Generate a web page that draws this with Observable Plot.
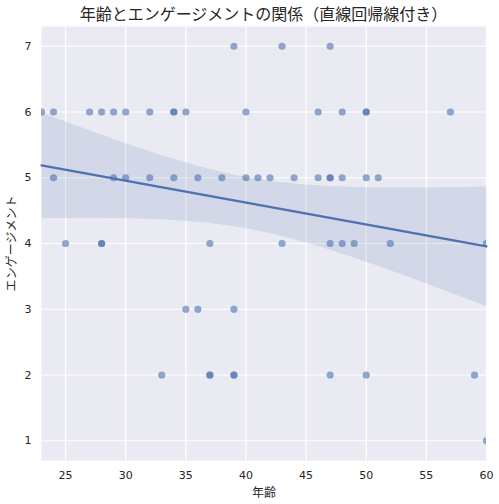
<!DOCTYPE html>
<html>
<head>
<meta charset="utf-8">
<script src="https://cdn.jsdelivr.net/npm/d3@7"></script>
<script src="https://cdn.jsdelivr.net/npm/@observablehq/plot@0.6"></script>
<style>
  body { margin: 0; background: #fff; }
  #wrap { position: relative; width: 499px; height: 504px; }
  #title { position: absolute; left: 41px; width: 445px; top: 3px; text-align: center;
           font-family: "Noto Sans CJK JP", sans-serif; font-size: 16px; font-weight: 400;
           color: #262626; line-height: 20px; }
  svg { font-family: "DejaVu Sans", "Noto Sans CJK JP", sans-serif; }
  g[aria-label="x-axis label"] text, g[aria-label="y-axis label"] text {
    font-family: "Noto Sans CJK JP", sans-serif; font-size: 12px; }
</style>
</head>
<body>
<div id="wrap"><div id="title">年齢とエンゲージメントの関係（直線回帰線付き）</div></div>
<script>
// data (age, engagement score)
const ages = [
  39, 43, 47,
  23, 24, 27, 28, 29, 30, 32, 34, 34, 35, 40, 46, 48, 50, 50, 57,
  24, 29, 30, 32, 34, 36, 38, 40, 41, 42, 44, 46, 47, 47, 48, 50, 51,
  25, 28, 28, 37, 43, 47, 48, 49, 52, 60,
  35, 36, 39,
  33, 37, 37, 39, 39, 47, 50, 59,
  60
];
const engagement = [
  7, 7, 7,
  6, 6, 6, 6, 6, 6, 6, 6, 6, 6, 6, 6, 6, 6, 6, 6,
  5, 5, 5, 5, 5, 5, 5, 5, 5, 5, 5, 5, 5, 5, 5, 5, 5,
  4, 4, 4, 4, 4, 4, 4, 4, 4, 4,
  3, 3, 3,
  2, 2, 2, 2, 2, 2, 2, 2,
  1
];
const xTicks = [25, 30, 35, 40, 45, 50, 55, 60];
const yTicks = [1, 2, 3, 4, 5, 6, 7];
const title = "年齢とエンゲージメントの関係（直線回帰線付き）";
const xLabel = "年齢";
const yLabel = "エンゲージメント";

const data = ages.map((a, i) => ({age: a, score: engagement[i]}));

const chart = Plot.plot({
  width: 499,
  height: 504,
  marginTop: 26,
  marginBottom: 44,
  marginLeft: 41,
  marginRight: 13,
  style: {fontSize: "11px", color: "#262626", background: "transparent"},
  x: {domain: [23, 60]},
  y: {domain: [0.7, 7.3]},
  marks: [
    Plot.frame({fill: "#eaeaf2", stroke: "none"}),
    Plot.gridX(xTicks, {stroke: "white", strokeOpacity: 1, strokeWidth: 1.2}),
    Plot.gridY(yTicks, {stroke: "white", strokeOpacity: 1, strokeWidth: 1.2}),
    Plot.axisX(xTicks, {tickSize: 0, tickPadding: 11, tickFormat: "d", label: xLabel,
                        labelAnchor: "center", labelArrow: "none", labelOffset: 36}),
    Plot.axisY(yTicks, {tickSize: 0, tickPadding: 10, tickFormat: "d", label: yLabel,
                        labelAnchor: "center", labelArrow: "none", labelOffset: 34}),
    Plot.dot(data, {x: "age", y: "score", r: 3.6, fill: "#4c72b0", fillOpacity: 0.6,
                    stroke: "none", clip: true}),
    Plot.linearRegressionY(data, {x: "age", y: "score", stroke: "#4c72b0", strokeWidth: 2.2,
                                  fill: "#4c72b0", fillOpacity: 0.15, ci: 0.95})
  ]
});
const wrap = document.getElementById("wrap");
chart.style.position = "absolute";
chart.style.left = "0";
chart.style.top = "0";
wrap.appendChild(chart);
wrap.appendChild(document.getElementById("title"));
</script>
</body>
</html>
